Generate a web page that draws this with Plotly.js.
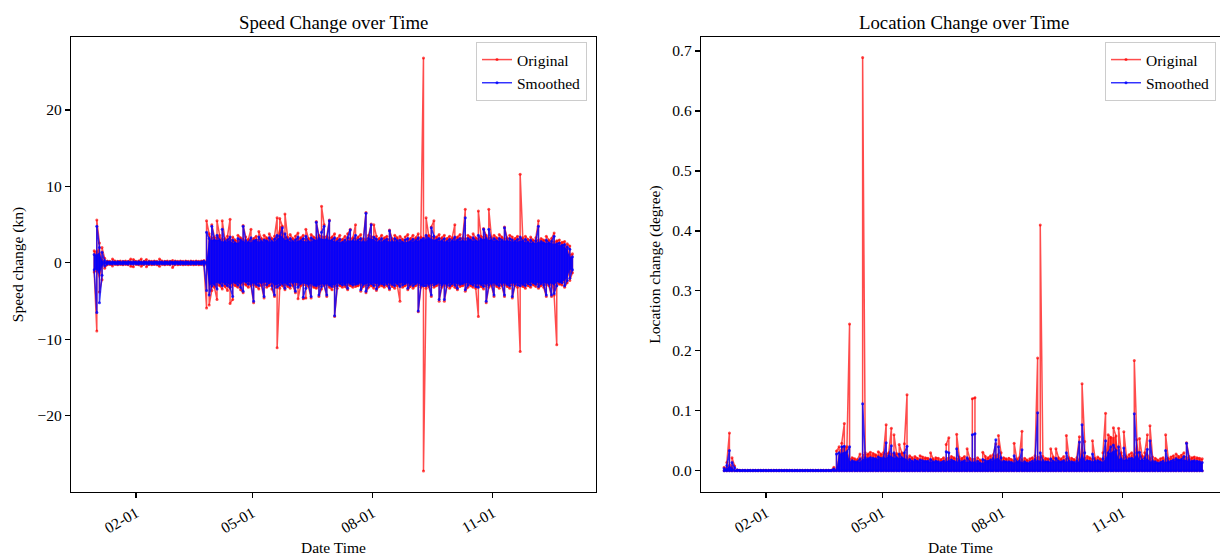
<!DOCTYPE html>
<html>
<head>
<meta charset="utf-8">
<script src="https://cdn.plot.ly/plotly-3.0.1.min.js"></script>
<style>html,body{margin:0;padding:0;background:#fff;}#chart{width:1220px;height:556px;}</style>
</head>
<body>
<div id="chart"></div>
<script>
// ---- time bins: 2-day bins, bin 0 = 2022-12-31 ----
const binStartUTC = Date.UTC(2022, 11, 31);
const binStepDays = 2;
const binCount = 184;

// ---- x tick dates / labels ----
const tickDates = ['2023-02-01', '2023-05-01', '2023-08-01', '2023-11-01'];
const tickLabels = ['02-01', '05-01', '08-01', '11-01'];

// ---- Speed change (kn): per-bin max / min of each series ----
const speedOrigHi = [
 1.6, 5.6, 2.6, 2.0, 0.6, 0.25, 0.2, 0.5, 0.25, 0.2,
 0.25, 0.2, 0.25, 0.2, 0.5, 0.45, 0.2, 0.25, 0.5, 0.2,
 0.45, 0.25, 0.2, 0.25, 0.2, 0.5, 0.25, 0.2, 0.25, 0.2,
 0.3, 0.25, 0.2, 0.25, 0.2, 0.25, 0.2, 0.25, 0.2, 0.25,
 0.2, 0.25, 0.3, 5.5, 3.8, 5.0, 3.4, 5.5, 3.6, 5.5,
 3.2, 3.5, 5.7, 3.4, 3.0, 3.6, 3.3, 4.9, 3.4, 3.1,
 4.4, 3.2, 3.5, 4.1, 3.2, 3.6, 3.3, 3.8, 3.2, 3.5,
 5.9, 5.8, 4.8, 6.4, 3.4, 3.7, 3.2, 3.5, 3.9, 3.3,
 3.6, 4.4, 3.2, 3.7, 3.4, 5.4, 3.6, 7.4, 5.0, 3.5,
 5.6, 3.4, 3.8, 3.2, 3.6, 3.1, 3.5, 3.8, 4.4, 3.3,
 5.0, 3.4, 3.7, 3.2, 6.6, 3.6, 5.1, 5.0, 3.5, 3.2,
 3.6, 3.3, 3.5, 4.3, 3.2, 3.6, 3.3, 3.5, 3.1, 3.4,
 3.7, 3.2, 3.6, 3.3, 3.8, 3.4, 26.8, 5.9, 3.6, 4.7,
 5.5, 3.4, 3.7, 3.3, 3.6, 3.2, 3.5, 3.3, 5.0, 3.4,
 3.7, 3.3, 7.0, 3.6, 3.4, 3.8, 3.3, 6.8, 3.5, 4.5,
 3.6, 7.0, 3.4, 3.6, 3.3, 3.7, 3.4, 4.7, 3.3, 3.6,
 3.4, 3.2, 3.5, 11.6, 3.3, 3.5, 3.1, 3.4, 3.0, 3.3,
 5.5, 3.2, 3.0, 3.5, 3.0, 3.2, 3.9, 2.9, 3.0, 2.7,
 2.8, 2.5, 2.2, 1.2
];
const speedOrigLo = [
 -1.2, -8.9, -3.8, -2.2, -0.7, -0.25, -0.2, -0.4, -0.2, -0.25,
 -0.2, -0.25, -0.2, -0.25, -0.45, -0.5, -0.2, -0.25, -0.45, -0.2,
 -0.5, -0.2, -0.25, -0.2, -0.25, -0.45, -0.2, -0.25, -0.2, -0.25,
 -0.6, -0.2, -0.25, -0.2, -0.25, -0.2, -0.25, -0.2, -0.25, -0.2,
 -0.25, -0.2, -0.3, -5.9, -5.5, -3.6, -3.2, -4.8, -3.0, -3.4,
 -3.1, -3.6, -5.3, -4.8, -3.0, -3.2, -3.5, -3.9, -2.9, -3.2,
 -3.0, -5.2, -3.1, -3.4, -3.0, -4.6, -3.2, -3.0, -3.4, -4.4,
 -11.1, -3.3, -3.0, -3.5, -3.1, -3.3, -3.0, -3.9, -4.7, -3.0,
 -4.7, -4.6, -3.1, -4.6, -3.2, -3.3, -4.4, -3.4, -3.0, -4.4,
 -3.2, -3.5, -7.0, -3.3, -3.0, -3.2, -3.1, -3.5, -3.0, -3.2,
 -3.1, -3.0, -3.7, -3.1, -3.9, -3.2, -3.0, -3.3, -3.6, -3.1,
 -3.0, -3.2, -3.0, -3.5, -3.1, -3.3, -3.0, -5.0, -3.2, -3.0,
 -3.5, -3.1, -3.3, -3.0, -6.4, -3.2, -27.2, -3.3, -3.1, -4.4,
 -3.2, -3.0, -5.0, -3.2, -5.0, -3.1, -3.3, -3.0, -3.2, -3.5,
 -3.1, -3.0, -3.7, -3.2, -3.0, -3.2, -3.3, -7.0, -3.1, -3.4,
 -5.2, -3.2, -3.0, -4.4, -3.1, -3.3, -3.0, -4.4, -3.1, -3.3,
 -4.6, -3.0, -3.2, -11.6, -3.1, -3.3, -3.0, -3.2, -2.9, -3.1,
 -3.3, -3.0, -3.2, -4.4, -3.0, -4.4, -4.2, -10.7, -2.8, -2.9,
 -3.2, -2.6, -2.3, -1.3
];
const speedSmoothHi = [
 1.1, 4.8, 2.0, 1.4, 0.3, 0.15, 0.12, 0.15, 0.12, 0.15,
 0.12, 0.15, 0.12, 0.15, 0.12, 0.15, 0.12, 0.15, 0.12, 0.15,
 0.12, 0.15, 0.12, 0.15, 0.12, 0.15, 0.12, 0.15, 0.12, 0.15,
 0.12, 0.15, 0.12, 0.15, 0.12, 0.15, 0.12, 0.15, 0.12, 0.15,
 0.12, 0.15, 0.2, 4.0, 3.2, 4.8, 3.0, 3.6, 3.0, 4.4,
 2.8, 3.0, 3.4, 3.0, 2.6, 3.2, 3.0, 4.8, 2.9, 2.7,
 3.3, 2.9, 3.0, 3.4, 2.8, 3.0, 2.9, 3.3, 2.8, 3.1,
 3.6, 3.5, 4.6, 3.8, 3.0, 3.2, 2.8, 3.0, 3.4, 2.9,
 3.2, 3.5, 2.8, 3.3, 3.0, 5.3, 3.2, 4.0, 4.8, 3.1,
 5.5, 3.0, 3.3, 2.8, 3.1, 2.7, 3.0, 3.3, 4.3, 2.9,
 3.6, 3.0, 3.2, 2.8, 6.5, 3.2, 5.0, 3.4, 3.1, 2.8,
 3.2, 2.9, 3.1, 4.2, 2.8, 3.2, 2.9, 3.0, 2.7, 3.0,
 3.2, 2.8, 3.1, 2.9, 3.3, 3.0, 3.2, 3.6, 3.2, 4.6,
 3.5, 3.0, 3.2, 2.9, 3.2, 2.8, 3.1, 2.9, 3.4, 3.0,
 3.2, 2.9, 5.9, 3.2, 3.0, 3.3, 2.9, 3.6, 3.1, 4.4,
 3.2, 4.4, 3.0, 3.2, 2.9, 3.2, 3.0, 4.6, 2.9, 3.2,
 3.0, 2.8, 3.1, 3.4, 2.9, 3.1, 2.7, 3.0, 2.6, 2.9,
 4.8, 2.8, 2.6, 3.0, 2.6, 2.8, 3.5, 2.5, 2.6, 2.3,
 2.4, 2.1, 1.8, 0.8
];
const speedSmoothLo = [
 -0.9, -6.5, -5.2, -1.6, -0.4, -0.15, -0.12, -0.15, -0.12, -0.15,
 -0.12, -0.15, -0.12, -0.15, -0.12, -0.15, -0.12, -0.15, -0.12, -0.15,
 -0.12, -0.15, -0.12, -0.15, -0.12, -0.15, -0.12, -0.15, -0.12, -0.15,
 -0.12, -0.15, -0.12, -0.15, -0.12, -0.15, -0.12, -0.15, -0.12, -0.15,
 -0.12, -0.15, -0.2, -3.6, -4.2, -3.0, -2.8, -3.4, -2.6, -3.0,
 -2.7, -3.0, -3.2, -4.4, -2.6, -2.9, -3.2, -3.7, -2.5, -2.8,
 -2.7, -5.0, -2.8, -3.0, -2.6, -4.4, -2.9, -2.6, -3.0, -4.2,
 -3.2, -2.9, -2.7, -3.3, -2.8, -3.0, -2.6, -3.7, -3.2, -2.7,
 -4.5, -3.3, -2.8, -4.4, -2.9, -3.0, -4.2, -3.1, -2.8, -4.2,
 -2.9, -3.1, -6.9, -3.0, -2.7, -2.9, -2.8, -3.3, -2.7, -2.9,
 -2.8, -2.7, -3.5, -2.8, -3.7, -2.9, -2.7, -3.0, -3.4, -2.8,
 -2.7, -2.9, -2.7, -3.3, -2.8, -3.0, -2.7, -3.1, -2.9, -2.7,
 -3.3, -2.8, -3.0, -2.7, -6.3, -2.9, -3.0, -3.0, -2.8, -4.2,
 -2.9, -2.7, -4.8, -2.9, -4.8, -2.8, -3.0, -2.7, -2.9, -3.3,
 -2.8, -2.7, -3.5, -2.9, -2.7, -2.9, -3.1, -3.2, -2.8, -3.1,
 -5.0, -2.9, -2.7, -4.2, -2.8, -3.0, -2.7, -4.2, -2.8, -3.0,
 -4.4, -2.7, -2.9, -3.0, -2.8, -3.0, -2.7, -2.9, -2.6, -2.8,
 -3.1, -2.7, -2.9, -4.2, -2.7, -4.2, -4.0, -3.0, -2.5, -2.6,
 -3.0, -2.3, -2.0, -0.9
];

// ---- Location change (degree): per-bin max of each series; minimum is 0 ----
const locFloor = 0;
const locOrigHi = [
 0.006, 0.014, 0.063, 0.022, 0.008, 0.002, 0.001, 0.001, 0.001, 0.001,
 0.001, 0.001, 0.001, 0.001, 0.001, 0.001, 0.001, 0.001, 0.001, 0.001,
 0.001, 0.001, 0.001, 0.001, 0.001, 0.001, 0.001, 0.001, 0.001, 0.001,
 0.001, 0.001, 0.001, 0.001, 0.001, 0.001, 0.001, 0.001, 0.001, 0.001,
 0.001, 0.001, 0.006, 0.033, 0.040, 0.046, 0.079, 0.040, 0.245, 0.022,
 0.020, 0.019, 0.028, 0.689, 0.030, 0.028, 0.031, 0.029, 0.027, 0.032,
 0.028, 0.030, 0.077, 0.030, 0.071, 0.060, 0.029, 0.044, 0.030, 0.045,
 0.127, 0.025, 0.022, 0.024, 0.021, 0.025, 0.023, 0.022, 0.021, 0.030,
 0.020, 0.022, 0.021, 0.019, 0.022, 0.044, 0.055, 0.024, 0.022, 0.061,
 0.023, 0.021, 0.024, 0.037, 0.021, 0.120, 0.122, 0.022, 0.018, 0.031,
 0.024, 0.022, 0.025, 0.027, 0.045, 0.059, 0.030, 0.022, 0.020, 0.021,
 0.019, 0.046, 0.020, 0.022, 0.066, 0.021, 0.018, 0.020, 0.022, 0.025,
 0.188, 0.410, 0.024, 0.021, 0.020, 0.037, 0.023, 0.037, 0.022, 0.020,
 0.024, 0.059, 0.022, 0.021, 0.019, 0.022, 0.057, 0.145, 0.049, 0.024,
 0.022, 0.050, 0.021, 0.023, 0.020, 0.030, 0.096, 0.060, 0.056, 0.072,
 0.058, 0.071, 0.030, 0.065, 0.024, 0.027, 0.030, 0.184, 0.052, 0.054,
 0.025, 0.030, 0.060, 0.075, 0.023, 0.021, 0.018, 0.020, 0.022, 0.060,
 0.021, 0.023, 0.025, 0.028, 0.024, 0.026, 0.030, 0.047, 0.024, 0.022,
 0.023, 0.022, 0.021, 0.020
];
const locSmoothHi = [
 0.004, 0.009, 0.034, 0.014, 0.005, 0.0015, 0.001, 0.001, 0.001, 0.001,
 0.001, 0.001, 0.001, 0.001, 0.001, 0.001, 0.001, 0.001, 0.001, 0.001,
 0.001, 0.001, 0.001, 0.001, 0.001, 0.001, 0.001, 0.001, 0.001, 0.001,
 0.001, 0.001, 0.001, 0.001, 0.001, 0.001, 0.001, 0.001, 0.001, 0.001,
 0.001, 0.001, 0.003, 0.028, 0.030, 0.040, 0.041, 0.032, 0.040, 0.017,
 0.015, 0.015, 0.020, 0.112, 0.022, 0.020, 0.022, 0.021, 0.020, 0.023,
 0.021, 0.022, 0.047, 0.025, 0.042, 0.030, 0.022, 0.028, 0.022, 0.030,
 0.041, 0.019, 0.016, 0.018, 0.016, 0.018, 0.017, 0.016, 0.016, 0.019,
 0.015, 0.016, 0.015, 0.014, 0.016, 0.032, 0.030, 0.018, 0.016, 0.037,
 0.017, 0.015, 0.017, 0.022, 0.015, 0.060, 0.062, 0.016, 0.013, 0.019,
 0.017, 0.016, 0.018, 0.020, 0.052, 0.040, 0.022, 0.016, 0.015, 0.015,
 0.014, 0.025, 0.015, 0.016, 0.035, 0.015, 0.013, 0.014, 0.016, 0.018,
 0.097, 0.030, 0.017, 0.015, 0.015, 0.020, 0.016, 0.021, 0.016, 0.015,
 0.017, 0.030, 0.016, 0.015, 0.014, 0.016, 0.048, 0.077, 0.030, 0.017,
 0.016, 0.028, 0.016, 0.017, 0.015, 0.020, 0.050, 0.030, 0.040, 0.043,
 0.034, 0.040, 0.020, 0.038, 0.018, 0.020, 0.021, 0.095, 0.030, 0.031,
 0.018, 0.021, 0.036, 0.050, 0.016, 0.015, 0.013, 0.014, 0.016, 0.034,
 0.015, 0.016, 0.018, 0.020, 0.018, 0.019, 0.024, 0.046, 0.018, 0.016,
 0.017, 0.016, 0.015, 0.014
];

// ---- build ----
const binDates = [];
for (let i = 0; i < binCount; i++) {
  const t = new Date(binStartUTC + i * binStepDays * 86400000);
  binDates.push(t.toISOString().slice(0, 10));
}
// the series itself: each bin drawn as a stroke from its max to its min
function zigzag(hi, lo) {
  const x = [], y = [];
  for (let i = 0; i < hi.length; i++) {
    const l = Array.isArray(lo) ? lo[i] : lo;
    const pair = (i % 2 === 0) ? [hi[i], l] : [l, hi[i]];
    x.push(binDates[i], binDates[i]);
    y.push(pair[0], pair[1]);
  }
  return {x, y};
}
// the dense body of the series (where neighbouring bins overlap), drawn as a filled band
function body(hi, lo) {
  const n = hi.length, top = [], bot = [];
  for (let i = 0; i < n; i++) {
    const a = Math.max(0, i - 1), b = Math.min(n - 1, i + 1);
    top.push(Math.min(hi[a], hi[i], hi[b]));
    if (Array.isArray(lo)) bot.push(Math.max(lo[a], lo[i], lo[b]));
    else bot.push(lo);
  }
  return {x: binDates.concat(binDates.slice().reverse()), y: top.concat(bot.slice().reverse())};
}

const RED = 'rgba(255,0,0,0.7)';
const BLUE = 'rgba(0,0,255,0.8)';
const BLUE_BODY = 'rgba(0,0,255,0.9)';
const FONT = 'Liberation Serif, Times New Roman, serif';

function series(z, name, color, xa, ya, legend) {
  return {
    type: 'scatter', mode: 'lines+markers', name: name,
    x: z.x, y: z.y, xaxis: xa, yaxis: ya, legend: legend,
    line: {color: color, width: 1.5, simplify: false},
    marker: {color: color, size: 3},
    hoverinfo: 'skip'
  };
}
function band(z, color, xa, ya) {
  return {
    type: 'scatter', mode: 'lines', x: z.x, y: z.y, xaxis: xa, yaxis: ya,
    fill: 'toself', fillcolor: color, line: {width: 0, color: color, simplify: false},
    showlegend: false, hoverinfo: 'skip'
  };
}

const traces = [
  band(body(speedOrigHi, speedOrigLo), RED, 'x', 'y'),
  series(zigzag(speedOrigHi, speedOrigLo), 'Original', RED, 'x', 'y', 'legend'),
  band(body(speedSmoothHi, speedSmoothLo), BLUE_BODY, 'x', 'y'),
  series(zigzag(speedSmoothHi, speedSmoothLo), 'Smoothed', BLUE, 'x', 'y', 'legend'),
  band(body(locOrigHi, locFloor), RED, 'x2', 'y2'),
  series(zigzag(locOrigHi, locFloor), 'Original', RED, 'x2', 'y2', 'legend2'),
  band(body(locSmoothHi, locFloor), BLUE_BODY, 'x2', 'y2'),
  series(zigzag(locSmoothHi, locFloor), 'Smoothed', BLUE, 'x2', 'y2', 'legend2')
];

const axisBase = {
  showgrid: false, zeroline: false, showline: true, linecolor: '#000', linewidth: 1.2,
  ticks: 'outside', ticklen: 5, tickwidth: 1.2, tickcolor: '#000',
  tickfont: {family: FONT, size: 15.5, color: '#000'}
};
const legendBase = {
  xanchor: 'right', yanchor: 'top', bgcolor: '#ffffff', bordercolor: '#cccccc', borderwidth: 1,
  font: {family: FONT, size: 15.5, color: '#000'}, itemwidth: 30, tracegroupgap: 0
};

const layout = {
  width: 1220, height: 556,
  margin: {l: 71, r: 0, t: 37, b: 64},
  paper_bgcolor: '#fff', plot_bgcolor: '#fff',
  font: {family: FONT, color: '#000'},
  showlegend: true,
  xaxis: Object.assign({}, axisBase, {
    domain: [0, 525 / 1149], type: 'date', mirror: true,
    range: ['2022-12-13 06:00', '2024-01-19 01:00'],
    tickvals: tickDates, ticktext: tickLabels, tickangle: -30,
    title: {text: 'Date Time', font: {family: FONT, size: 15.5, color: '#000'}, standoff: 6},
    anchor: 'y'
  }),
  yaxis: Object.assign({}, axisBase, {
    domain: [0, 1], range: [-29.96, 29.54], dtick: 10, tick0: 0, mirror: true,
    title: {text: 'Speed change (kn)', font: {family: FONT, size: 15.5, color: '#000'}, standoff: 10},
    anchor: 'x'
  }),
  xaxis2: Object.assign({}, axisBase, {
    domain: [630 / 1149, 1], type: 'date', mirror: true,
    range: ['2022-12-13 06:00', '2024-01-14 15:00'],
    tickvals: tickDates, ticktext: tickLabels, tickangle: -30,
    title: {text: 'Date Time', font: {family: FONT, size: 15.5, color: '#000'}, standoff: 6},
    anchor: 'y2'
  }),
  yaxis2: Object.assign({}, axisBase, {
    domain: [0, 1], range: [-0.0353, 0.7233], dtick: 0.1, tick0: 0, tickformat: '.1f', mirror: false,
    title: {text: 'Location change (degree)', font: {family: FONT, size: 15.5, color: '#000'}, standoff: 8},
    anchor: 'x2'
  }),
  legend: Object.assign({}, legendBase, {x: (587 - 71) / 1149, y: (492 - 42) / 455}),
  legend2: Object.assign({}, legendBase, {x: (1216 - 71) / 1149, y: (492 - 42) / 455}),
  annotations: [
    {text: 'Speed Change over Time', xref: 'paper', yref: 'paper', x: (333.5 - 71) / 1149, y: 1,
     xanchor: 'center', yanchor: 'bottom', yshift: 2, showarrow: false,
     font: {family: FONT, size: 18.8, color: '#000'}},
    {text: 'Location Change over Time', xref: 'paper', yref: 'paper', x: (963.5 - 71) / 1149, y: 1,
     xanchor: 'center', yanchor: 'bottom', yshift: 2, showarrow: false,
     font: {family: FONT, size: 18.8, color: '#000'}}
  ]
};

Plotly.newPlot('chart', traces, layout, {displayModeBar: false, staticPlot: true});
</script>
</body>
</html>
